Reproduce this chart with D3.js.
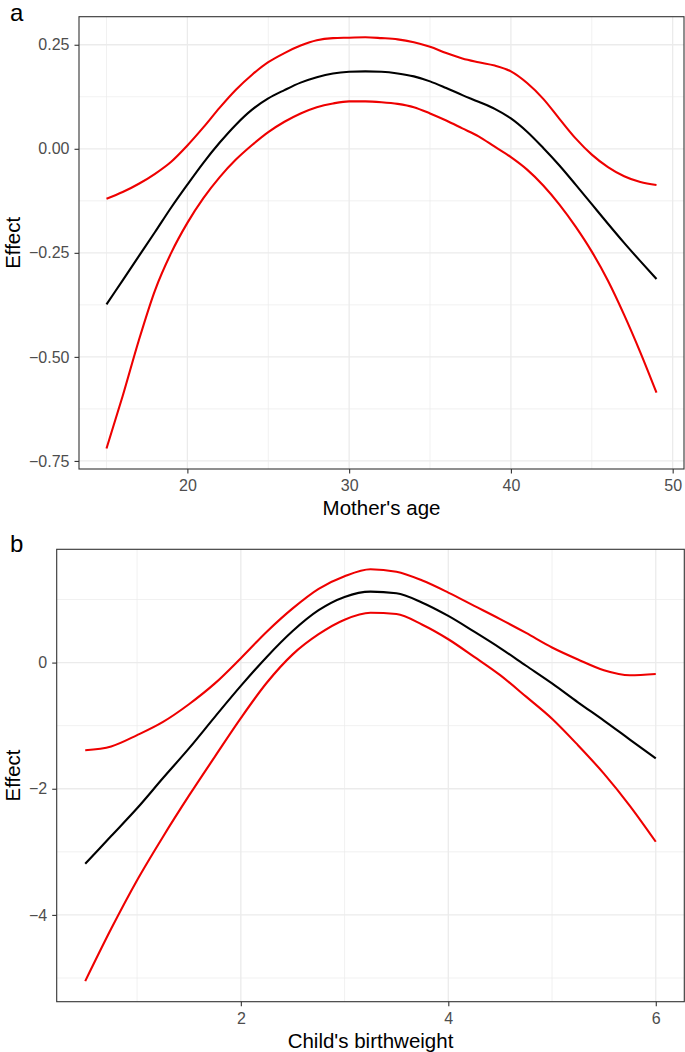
<!DOCTYPE html>
<html>
<head>
<meta charset="utf-8">
<script src="https://cdn.jsdelivr.net/npm/d3@7"></script>
<style>
  html, body { margin: 0; padding: 0; background: #fff; }
  svg { display: block; font-family: "Liberation Sans", Arial, Helvetica, sans-serif; }
</style>
</head>
<body>
<svg id="chart" width="685" height="1052"></svg>
<script>
// ---------- Data: panel a (Mother's age) ----------
const ageX = [15,16,17,18,19,20,21,22,23,24,25,26,27,28,29,30,31,32,33,34,35,36,37,38,39,40,41,42,43,44,45,46,47,48,49];
const ageFit = [-0.374,-0.316,-0.258,-0.200,-0.141,-0.086,-0.033,0.015,0.058,0.094,0.121,0.141,0.159,0.172,0.181,0.185,0.186,0.185,0.181,0.174,0.162,0.146,0.129,0.113,0.096,0.073,0.041,0.002,-0.040,-0.086,-0.133,-0.180,-0.226,-0.270,-0.313];
const ageUpper = [-0.120,-0.104,-0.084,-0.060,-0.031,0.008,0.052,0.099,0.142,0.178,0.208,0.230,0.248,0.261,0.266,0.267,0.268,0.266,0.263,0.256,0.245,0.230,0.217,0.208,0.200,0.186,0.158,0.120,0.072,0.025,-0.014,-0.044,-0.066,-0.080,-0.087];
const ageLower = [-0.720,-0.594,-0.460,-0.340,-0.250,-0.178,-0.118,-0.068,-0.026,0.009,0.040,0.065,0.085,0.100,0.109,0.114,0.114,0.112,0.108,0.100,0.085,0.068,0.049,0.030,0.005,-0.020,-0.050,-0.088,-0.134,-0.187,-0.247,-0.317,-0.399,-0.489,-0.586];
const ageXTicks = [20,30,40,50];
const ageXMinor = [15,25,35,45];
const ageYTicks = [0.25,0.00,-0.25,-0.50,-0.75];
const ageYTickLabels = ["0.25","0.00","\u22120.25","\u22120.50","\u22120.75"];
const ageYMinor = [0.125,-0.125,-0.375,-0.625];

// ---------- Data: panel b (Child's birthweight) ----------
const bwX = [0.5,0.75,1.0,1.25,1.5,1.75,2.0,2.25,2.5,2.75,3.0,3.25,3.5,3.75,4.0,4.25,4.5,4.75,5.0,5.25,5.5,5.75,6.0];
const bwFit = [-3.19,-2.75,-2.31,-1.83,-1.36,-0.86,-0.37,0.09,0.50,0.83,1.04,1.125,1.10,0.95,0.74,0.49,0.23,-0.05,-0.33,-0.63,-0.92,-1.22,-1.52];
const bwUpper = [-1.39,-1.33,-1.15,-0.94,-0.66,-0.33,0.07,0.49,0.86,1.17,1.37,1.48,1.44,1.30,1.11,0.90,0.69,0.47,0.24,0.05,-0.12,-0.20,-0.18];
const bwLower = [-5.05,-4.22,-3.45,-2.76,-2.11,-1.49,-0.88,-0.32,0.13,0.45,0.68,0.79,0.77,0.60,0.37,0.09,-0.20,-0.54,-0.89,-1.31,-1.76,-2.27,-2.84];
const bwXTicks = [2,4,6];
const bwXMinor = [1,3,5];
const bwYTicks = [0,-2,-4];
const bwYTickLabels = ["0","\u22122","\u22124"];
const bwYMinor = [1,-1,-3,-5];

const svg = d3.select("#chart");

function panel(opts) {
  const {left, top, right, bottom, xDomain, yDomain, xs, fit, upper, lower,
         xTicks, xMinor, yTicks, yTickLabels, yMinor, tag, xTitle, tagY} = opts;
  const x = d3.scaleLinear().domain(xDomain).range([left, right]);
  const y = d3.scaleLinear().domain(yDomain).range([bottom, top]);
  const g = svg.append("g");

  g.append("rect").attr("x", left).attr("y", top).attr("width", right-left).attr("height", bottom-top).attr("fill", "#fff");

  // minor grid
  g.selectAll(".vminor").data(xMinor).join("line")
    .attr("x1", d => x(d)).attr("x2", d => x(d)).attr("y1", top).attr("y2", bottom)
    .attr("stroke", "#ebebeb").attr("stroke-width", 0.7);
  g.selectAll(".hminor").data(yMinor).join("line")
    .attr("y1", d => y(d)).attr("y2", d => y(d)).attr("x1", left).attr("x2", right)
    .attr("stroke", "#ebebeb").attr("stroke-width", 0.7);
  // major grid
  g.selectAll(".vmajor").data(xTicks).join("line")
    .attr("x1", d => x(d)).attr("x2", d => x(d)).attr("y1", top).attr("y2", bottom)
    .attr("stroke", "#ebebeb").attr("stroke-width", 1.3);
  g.selectAll(".hmajor").data(yTicks).join("line")
    .attr("y1", d => y(d)).attr("y2", d => y(d)).attr("x1", left).attr("x2", right)
    .attr("stroke", "#ebebeb").attr("stroke-width", 1.3);

  // lines
  const mk = vals => d3.line().x((d,i) => x(xs[i])).y(d => y(d)).curve(d3.curveMonotoneX)(vals);
  g.append("path").attr("d", mk(upper)).attr("fill", "none").attr("stroke", "#ee0000").attr("stroke-width", 2.1);
  g.append("path").attr("d", mk(lower)).attr("fill", "none").attr("stroke", "#ee0000").attr("stroke-width", 2.1);
  g.append("path").attr("d", mk(fit)).attr("fill", "none").attr("stroke", "#000").attr("stroke-width", 2.1);

  // border
  g.append("rect").attr("x", left).attr("y", top).attr("width", right-left).attr("height", bottom-top)
    .attr("fill", "none").attr("stroke", "#333").attr("stroke-width", 1.1);

  // axes
  const xAxis = d3.axisBottom(x).tickValues(xTicks).tickSize(4.5).tickPadding(6.5).tickFormat(d3.format("d"));
  const xa = g.append("g").attr("transform", `translate(0,${bottom})`).call(xAxis);
  const yAxis = d3.axisLeft(y).tickValues(yTicks).tickSize(4.5).tickPadding(5).tickFormat((d,i) => yTickLabels[i]);
  const ya = g.append("g").attr("transform", `translate(${left},0)`).call(yAxis);
  [xa, ya].forEach(a => {
    a.select(".domain").remove();
    a.selectAll(".tick line").attr("stroke", "#333").attr("stroke-width", 1.1);
    a.selectAll(".tick text").attr("fill", "#4d4d4d").style("font-size", "16px")
      .style("font-family", "'Liberation Sans', Arial, sans-serif");
  });

  // titles
  g.append("text").attr("x", (left+right)/2).attr("y", bottom + 46).attr("text-anchor", "middle")
    .style("font-size", "20.5px").attr("fill", "#000").text(xTitle);
  g.append("text").attr("transform", `translate(19.5,${(top+bottom)/2}) rotate(-90)`).attr("text-anchor", "middle")
    .style("font-size", "20.5px").attr("fill", "#000").text("Effect");
  g.append("text").attr("x", 10).attr("y", tagY).style("font-size", "24px").attr("fill", "#000").text(tag);
}

panel({left: 79, top: 16.7, right: 684, bottom: 469,
  xDomain: [13.3, 50.7], yDomain: [-0.7694, 0.3174],
  xs: ageX, fit: ageFit, upper: ageUpper, lower: ageLower,
  xTicks: ageXTicks, xMinor: ageXMinor, yTicks: ageYTicks, yTickLabels: ageYTickLabels, yMinor: ageYMinor,
  tag: "a", xTitle: "Mother's age", tagY: 21});

panel({left: 56.7, top: 549.3, right: 684.3, bottom: 1001.7,
  xDomain: [0.225, 6.275], yDomain: [-5.376, 1.796],
  xs: bwX, fit: bwFit, upper: bwUpper, lower: bwLower,
  xTicks: bwXTicks, xMinor: bwXMinor, yTicks: bwYTicks, yTickLabels: bwYTickLabels, yMinor: bwYMinor,
  tag: "b", xTitle: "Child's birthweight", tagY: 552});
</script>
</body>
</html>
